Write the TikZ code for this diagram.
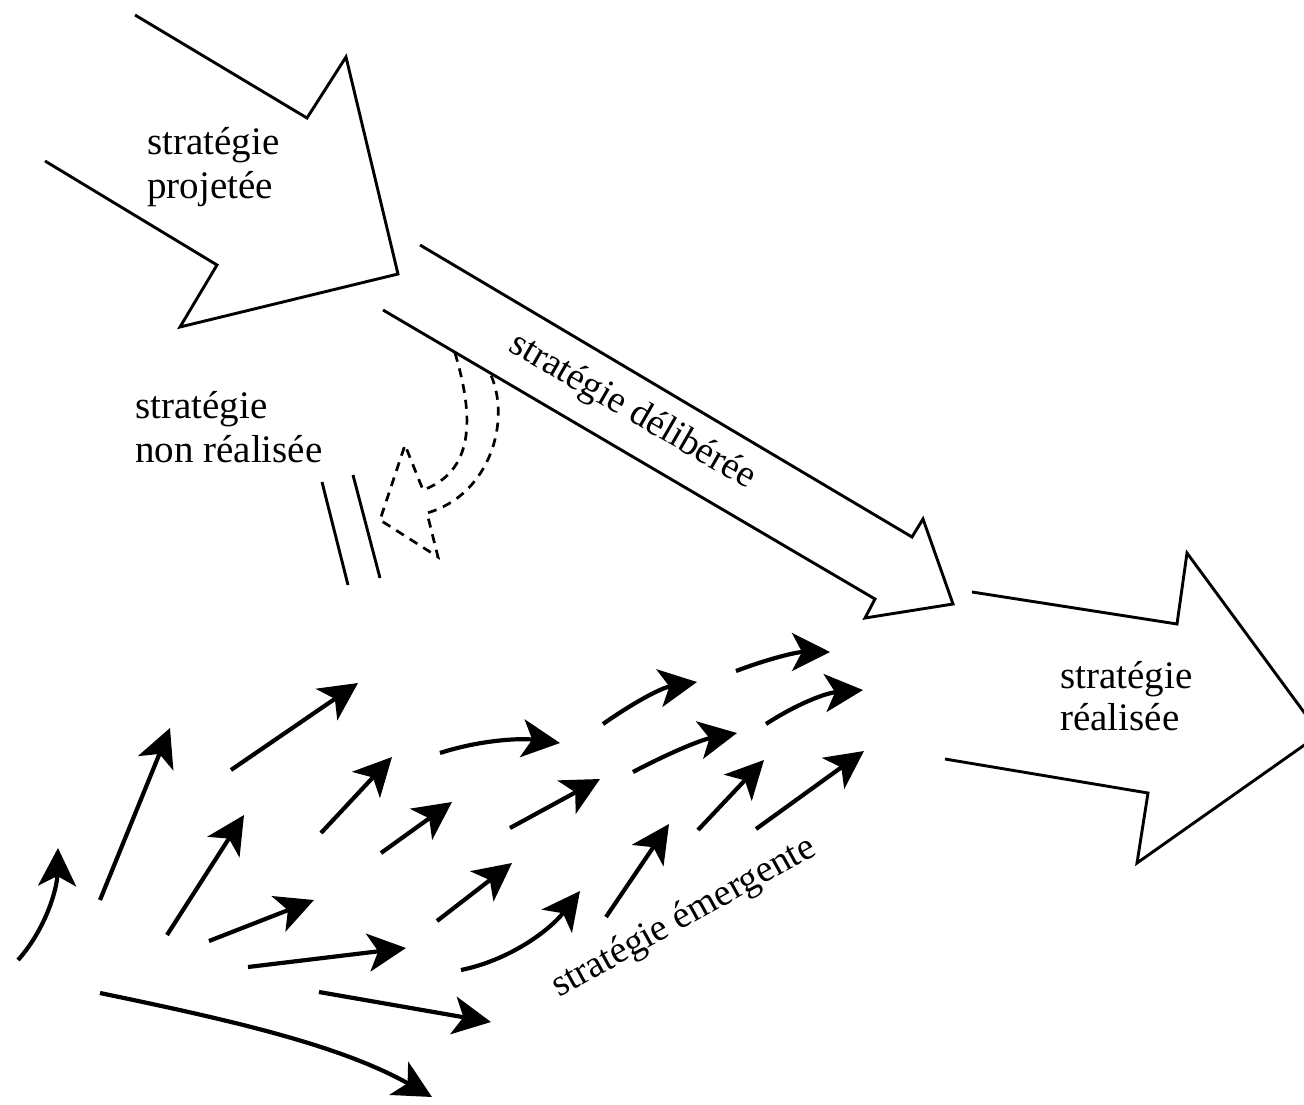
\documentclass[tikz,border=0pt]{standalone}
\usepackage{fontspec}
\setmainfont{Liberation Serif}
\usetikzlibrary{arrows.meta}
\begin{document}
\begin{tikzpicture}[x=1pt,y=-1pt,
  outline/.style={line width=2.9pt, line join=miter},
  dashout/.style={line width=2.7pt, dash pattern=on 9pt off 7pt},
  flow/.style={line width=4.2pt, -{Stealth[length=38pt,width=38pt,inset=10pt]}},
  lbl/.style={font=\fontsize{39}{43}\selectfont, inner sep=0pt, anchor=base west},
  slant/.style={font=\fontsize{38}{43}\selectfont, inner sep=0pt}]
\useasboundingbox (0,0) rectangle (1304,1105);
\clip (0,0) rectangle (1304,1105);

% big hollow arrows
\draw[outline] (135,15) -- (307,118) -- (346,57) -- (398,274) -- (180,327) -- (217,265) -- (45,161);
\draw[outline] (420,245) -- (912,537) -- (923,519) -- (953,604) -- (865,618) -- (875,599) -- (383,310);
\draw[outline] (972,592) -- (1177,624) -- (1187,553) -- (1320,734) -- (1137,863) -- (1148,793) -- (945,759);

% unrealised strategy: dashed curved arrow and two strokes
\draw[dashout] (455,353) .. controls (472,410) and (478,470) .. (423,490)
  -- (405,445) -- (380,520) -- (438,557) -- (427,513)
  .. controls (490,495) and (512,420) .. (490,373);
\draw[line width=2.9pt] (322,482) -- (348,585);
\draw[line width=2.9pt] (353,475) -- (380,578);

% emergent small arrows
\draw[flow] (18,960) .. controls (45,930) and (57,890) .. (58,848);
\draw[flow] (100,900) -- (170,728);
\draw[flow] (231,770) -- (358,683);
\draw[flow] (167,935) -- (244,815);
\draw[flow] (209,941) -- (314,900);
\draw[flow] (248,967) -- (406,948);
\draw[flow] (100,993) .. controls (230,1020) and (340,1045) .. (432,1097);
\draw[flow] (321,833) -- (392,757);
\draw[flow] (381,853) -- (452,802);
\draw[flow] (440,753) .. controls (480,740) and (520,738) .. (560,743);
\draw[flow] (319,992) -- (491,1022);
\draw[flow] (437,921) -- (512,863);
\draw[flow] (461,970) .. controls (510,960) and (550,930) .. (580,891);
\draw[flow] (510,828) -- (600,779);
\draw[flow] (603,724) .. controls (630,705) and (660,688) .. (697,682);
\draw[flow] (606,917) -- (669,824);
\draw[flow] (633,772) .. controls (665,755) and (700,740) .. (737,733);
\draw[flow] (736,671) .. controls (765,660) and (795,652) .. (830,652);
\draw[flow] (766,724) .. controls (795,705) and (825,693) .. (863,690);
\draw[flow] (698,830) -- (764,760);
\draw[flow] (756,829) -- (864,751);

% labels
\node[lbl] (proj1) at (147,155) {stratégie};
\node[lbl] (proj2) at (147,198) {projetée};
\node[lbl] (nonr1) at (135,418) {stratégie};
\node[lbl] (nonr2) at (135,462) {non réalisée};
\node[lbl] (real1) at (1060,688) {stratégie};
\node[lbl] (real2) at (1060,730) {réalisée};
\node[slant, rotate=-30] (delib) at (632,412) {stratégie délibérée};
\node[slant, rotate=29] (emerg) at (684,918) {stratégie émergente};
\end{tikzpicture}
\end{document}
